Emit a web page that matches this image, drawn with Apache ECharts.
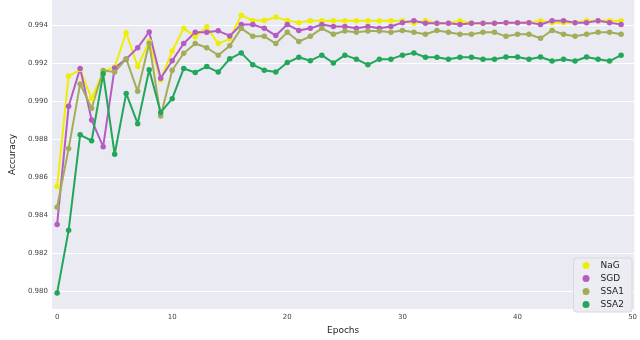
<!DOCTYPE html>
<html>
<head>
<meta charset="utf-8">
<script src="https://cdn.jsdelivr.net/npm/echarts@6/dist/echarts.min.js"></script>
<style>
  html, body { margin: 0; padding: 0; background: #fff; }
  #chart { width: 640px; height: 340px; }
</style>
</head>
<body>
<div id="chart"></div>
<script>
// accuracy per epoch
const epochs = Array.from({ length: 50 }, (_, i) => i);

const nag = [0.98551, 0.99131, 0.99165, 0.99013, 0.99155, 0.99179, 0.99359, 0.99181, 0.99313, 0.99111,
  0.99263, 0.99382, 0.99338, 0.99390, 0.99302, 0.99327, 0.99451, 0.99423, 0.99423, 0.99441,
  0.99423, 0.99412, 0.99422, 0.99422, 0.99422, 0.99422, 0.99422, 0.99422, 0.99422, 0.99422,
  0.99422, 0.99409, 0.99422, 0.99409, 0.99409, 0.99422, 0.99409, 0.99409, 0.99409, 0.99412,
  0.99412, 0.99412, 0.99422, 0.99412, 0.99412, 0.99412, 0.99422, 0.99422, 0.99422, 0.99422];

const sgd = [0.98351, 0.98972, 0.99171, 0.98900, 0.98760, 0.99174, 0.99220, 0.99280, 0.99363, 0.99120,
  0.99212, 0.99302, 0.99361, 0.99361, 0.99369, 0.99342, 0.99402, 0.99402, 0.99382, 0.99344,
  0.99402, 0.99371, 0.99382, 0.99402, 0.99392, 0.99392, 0.99382, 0.99392, 0.99382, 0.99392,
  0.99412, 0.99422, 0.99409, 0.99409, 0.99409, 0.99402, 0.99409, 0.99409, 0.99409, 0.99412,
  0.99412, 0.99412, 0.99402, 0.99422, 0.99422, 0.99412, 0.99412, 0.99422, 0.99412, 0.99402];

const ssa1 = [0.98442, 0.98750, 0.99090, 0.98962, 0.99160, 0.99152, 0.99222, 0.99051, 0.99304, 0.98921,
  0.99162, 0.99251, 0.99302, 0.99280, 0.99241, 0.99291, 0.99382, 0.99340, 0.99340, 0.99302,
  0.99361, 0.99313, 0.99340, 0.99382, 0.99351, 0.99368, 0.99361, 0.99368, 0.99368, 0.99361,
  0.99371, 0.99361, 0.99351, 0.99371, 0.99361, 0.99351, 0.99351, 0.99361, 0.99361, 0.99340,
  0.99351, 0.99351, 0.99330, 0.99371, 0.99351, 0.99340, 0.99351, 0.99361, 0.99361, 0.99351];

const ssa2 = [0.97991, 0.98320, 0.98822, 0.98791, 0.99143, 0.98720, 0.99040, 0.98881, 0.99164, 0.98940,
  0.99012, 0.99171, 0.99150, 0.99181, 0.99152, 0.99222, 0.99253, 0.99191, 0.99162, 0.99152,
  0.99202, 0.99230, 0.99212, 0.99241, 0.99200, 0.99241, 0.99220, 0.99190, 0.99220, 0.99220,
  0.99241, 0.99253, 0.99230, 0.99230, 0.99220, 0.99230, 0.99230, 0.99220, 0.99220, 0.99231,
  0.99231, 0.99220, 0.99231, 0.99210, 0.99220, 0.99210, 0.99231, 0.99220, 0.99210, 0.99241];

const xTicks = [0, 10, 20, 30, 40, 50];
const yTicks = [0.980, 0.982, 0.984, 0.986, 0.988, 0.990, 0.992, 0.994];

const seriesDefs = [
  { name: 'NaG', data: nag, color: '#eeee05' },
  { name: 'SGD', data: sgd, color: '#b55bc2' },
  { name: 'SSA1', data: ssa1, color: '#a2ad5a' },
  { name: 'SSA2', data: ssa2, color: '#22a65a' },
];

const FONT = '"DejaVu Sans", sans-serif';

const chart = echarts.init(document.getElementById('chart'));
chart.setOption({
  animation: false,
  backgroundColor: '#ffffff',
  textStyle: { fontFamily: FONT },
  grid: { left: 33, right: 3, top: 0, bottom: 23, backgroundColor: '#eaeaf2', show: true, borderWidth: 0 },
  legend: {
    orient: 'vertical',
    right: 8,
    bottom: 28,
    icon: 'circle',
    itemWidth: 7,
    itemHeight: 7,
    itemGap: 4,
    padding: [3, 8, 3, 9],
    backgroundColor: '#ececf3',
    borderColor: '#d8d8de',
    borderWidth: 1,
    borderRadius: 3,
    textStyle: { fontSize: 9, color: '#222', fontFamily: FONT, padding: [0, 0, 0, 6] },
    data: seriesDefs.map(s => s.name),
  },
  xAxis: {
    type: 'value',
    min: -0.45,
    max: 50.15,
    name: 'Epochs',
    nameLocation: 'middle',
    nameGap: 12,
    nameTextStyle: { fontSize: 9, color: '#222' },
    axisLine: { show: false },
    axisTick: { show: false, customValues: xTicks },
    splitLine: { show: false },
    axisLabel: { customValues: xTicks, fontSize: 7, color: '#444', margin: 5 },
  },
  yAxis: {
    type: 'value',
    min: 0.97906,
    max: 0.99531,
    name: 'Accuracy',
    nameLocation: 'middle',
    nameGap: 25,
    nameTextStyle: { fontSize: 9, color: '#222' },
    axisLine: { show: false },
    axisTick: { show: false, customValues: yTicks },
    splitLine: { show: true, lineStyle: { color: '#ffffff', width: 1 } },
    axisLabel: {
      customValues: yTicks, fontSize: 7, color: '#444', margin: 4,
      formatter: v => v.toFixed(3),
    },
  },
  series: seriesDefs.map(s => ({
    name: s.name,
    type: 'line',
    data: epochs.map((e, i) => [e, s.data[i]]),
    color: s.color,
    symbol: 'circle',
    symbolSize: 5.5,
    showSymbol: true,
    lineStyle: { width: 2, color: s.color },
    itemStyle: { color: s.color },
  })),
});
</script>
</body>
</html>
